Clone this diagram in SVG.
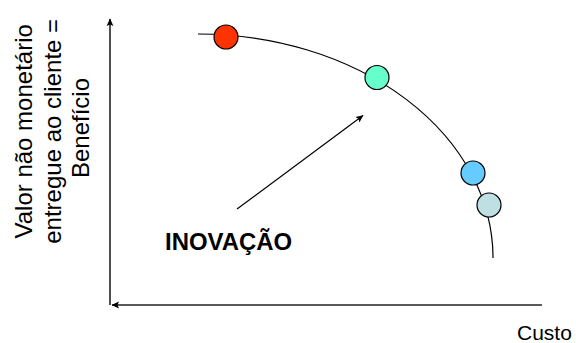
<svg xmlns="http://www.w3.org/2000/svg" width="576" height="343" viewBox="0 0 576 343">
  <defs>
    <marker id="ah" markerWidth="8" markerHeight="8" refX="7" refY="4" orient="auto" markerUnits="userSpaceOnUse">
      <path d="M0,0.6 L7.5,4 L0,7.4 L1.5,4 Z" fill="#000"/>
    </marker>
    <style>
      .ax { stroke: #222; stroke-width: 1.6; fill: none; }
      .ln { stroke: #000; stroke-width: 1.2; fill: none; }
      .dot { stroke: #000; stroke-width: 1.2; }
      .lbl { font-family: "Liberation Sans", Arial, sans-serif; fill: #000; }
    </style>
  </defs>
  <rect width="576" height="343" fill="#fff"/>
  <g id="connectors">
    <path class="ax" d="M110,305 L110,19" marker-end="url(#ah)"/>
    <path class="ax" d="M542,305 L112,305" marker-end="url(#ah)"/>
    <path id="curve" class="ln" d="M198,34 A295,224 0 0,1 493,258"/>
    <path id="innovation-arrow" class="ln" d="M237,209 L363,115.5" marker-end="url(#ah)"/>
  </g>
  <g id="node-red"><circle class="dot" cx="226" cy="37" r="12" fill="#FF3300"/></g>
  <g id="node-green"><circle class="dot" cx="377" cy="77.5" r="12" fill="#66FFCC"/></g>
  <g id="node-blue"><circle class="dot" cx="473" cy="173" r="12" fill="#66CCFF"/></g>
  <g id="node-grey"><circle class="dot" cx="489" cy="205" r="12" fill="#BFE0E3"/></g>
  <g id="label-y">
    <text class="lbl" font-size="24" text-anchor="middle" transform="translate(32,128) rotate(-90)">
      <tspan x="0" y="0">Valor não monetário</tspan>
      <tspan x="0" y="28.5">entregue ao cliente =</tspan>
      <tspan x="0" y="57">Benefício</tspan>
    </text>
  </g>
  <g id="label-x"><text class="lbl" x="517" y="340" font-size="21">Custo</text></g>
  <g id="label-inovacao"><text class="lbl" x="165" y="249.5" font-size="23" font-weight="bold" textLength="127" lengthAdjust="spacingAndGlyphs">INOVAÇÃO</text></g>
</svg>
